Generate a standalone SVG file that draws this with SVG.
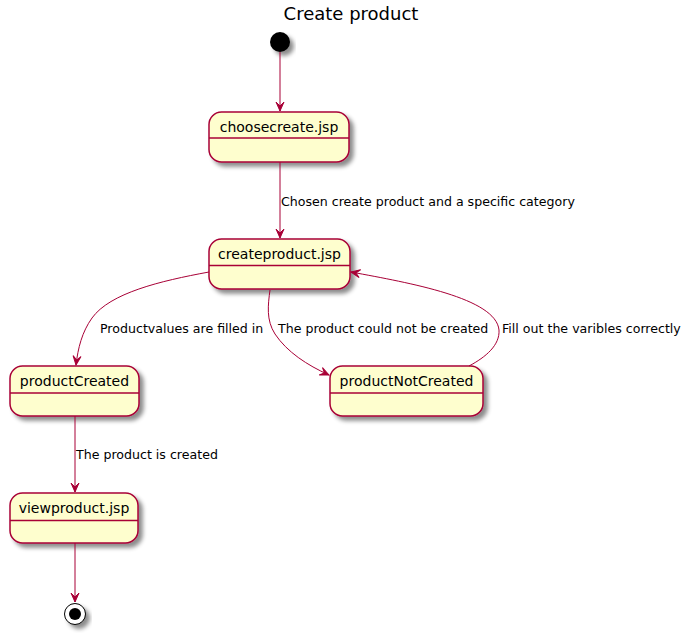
<svg xmlns="http://www.w3.org/2000/svg" width="690" height="634" viewBox="0 0 690 634">
<defs>
<filter id="sh" x="-20%" y="-20%" width="150%" height="160%">
<feGaussianBlur in="SourceAlpha" stdDeviation="2"/>
<feOffset dx="4" dy="4" result="b"/>
<feColorMatrix in="b" type="matrix" values="0 0 0 0 0  0 0 0 0 0  0 0 0 0 0  0 0 0 0.45 0" result="c"/>
<feMerge><feMergeNode in="c"/><feMergeNode in="SourceGraphic"/></feMerge>
</filter>
<marker id="ah" markerUnits="userSpaceOnUse" markerWidth="12" markerHeight="12" viewBox="-10 -6 12 12" refX="0" refY="0" orient="auto">
<path d="M0,0 L-9,-4 L-5,0 L-9,4 Z" fill="#A80036" stroke="#A80036" stroke-width="1"/>
</marker>
</defs>
<style>
.st rect{fill:#FEFECE;stroke:#A80036;stroke-width:1.5}
.st line{stroke:#A80036;stroke-width:1.5}
.st text{font-family:"DejaVu Sans","Liberation Sans",sans-serif;font-size:14px;fill:#000;text-anchor:middle}
.cn path,.cn line{fill:none;stroke:#A80036;stroke-width:1;marker-end:url(#ah)}
.lb{font-family:"DejaVu Sans","Liberation Sans",sans-serif;font-size:12.6px;fill:#000}
.title{font-family:"DejaVu Sans","Liberation Sans",sans-serif;font-size:18px;fill:#000;text-anchor:middle}
</style>
<rect width="690" height="634" fill="#FFFFFF"/>
<text class="title" x="351" y="20">Create product</text>

<g id="start"><circle cx="280" cy="42" r="10" fill="#000" filter="url(#sh)"/></g>

<g id="choosecreate" class="st">
<rect x="209" y="112" width="140" height="50" rx="12.5" ry="12.5" filter="url(#sh)"/>
<line x1="209" y1="138" x2="349" y2="138"/>
<text x="279" y="132">choosecreate.jsp</text>
</g>

<g id="createproduct" class="st">
<rect x="209" y="239" width="141" height="50" rx="12.5" ry="12.5" filter="url(#sh)"/>
<line x1="209" y1="265.5" x2="350" y2="265.5"/>
<text x="279.5" y="259">createproduct.jsp</text>
</g>

<g id="productCreated" class="st">
<rect x="10" y="366" width="129" height="50" rx="12.5" ry="12.5" filter="url(#sh)"/>
<line x1="10" y1="393" x2="139" y2="393"/>
<text x="74.5" y="386">productCreated</text>
</g>

<g id="productNotCreated" class="st">
<rect x="330" y="366" width="153" height="50" rx="12.5" ry="12.5" filter="url(#sh)"/>
<line x1="330" y1="393" x2="483" y2="393"/>
<text x="406.5" y="386">productNotCreated</text>
</g>

<g id="viewproduct" class="st">
<rect x="10" y="493" width="128" height="50" rx="12.5" ry="12.5" filter="url(#sh)"/>
<line x1="10" y1="520.5" x2="138" y2="520.5"/>
<text x="74" y="513">viewproduct.jsp</text>
</g>

<g id="end" filter="url(#sh)">
<circle cx="75" cy="614" r="10.5" fill="#FFFFFF" stroke="#000" stroke-width="1"/>
<circle cx="75" cy="614" r="6" fill="#000"/>
</g>

<g id="connectors" class="cn">
<line x1="280" y1="52" x2="280" y2="111"/>
<line x1="280" y1="162" x2="280" y2="238"/>
<path d="M209,272 C160,281 110,293 92,318 C82,332 78,348 76,365"/>
<path d="M270,290 C268,305 266,320 275,334 C287,352 307,365 329,375"/>
<path d="M469,366 C486,357 500,345 499,330 C496,298 410,283 351,272"/>
<line x1="75" y1="416" x2="75" y2="492"/>
<line x1="75" y1="543" x2="75" y2="602"/>
</g>
<g id="labels">
<text class="lb" x="281" y="206">Chosen create product and a specific category</text>
<text class="lb" x="100" y="333">Productvalues are filled in</text>
<text class="lb" x="278" y="333">The product could not be created</text>
<text class="lb" x="502" y="333">Fill out the varibles correctly</text>
<text class="lb" x="76" y="459">The product is created</text>
</g>
</svg>
